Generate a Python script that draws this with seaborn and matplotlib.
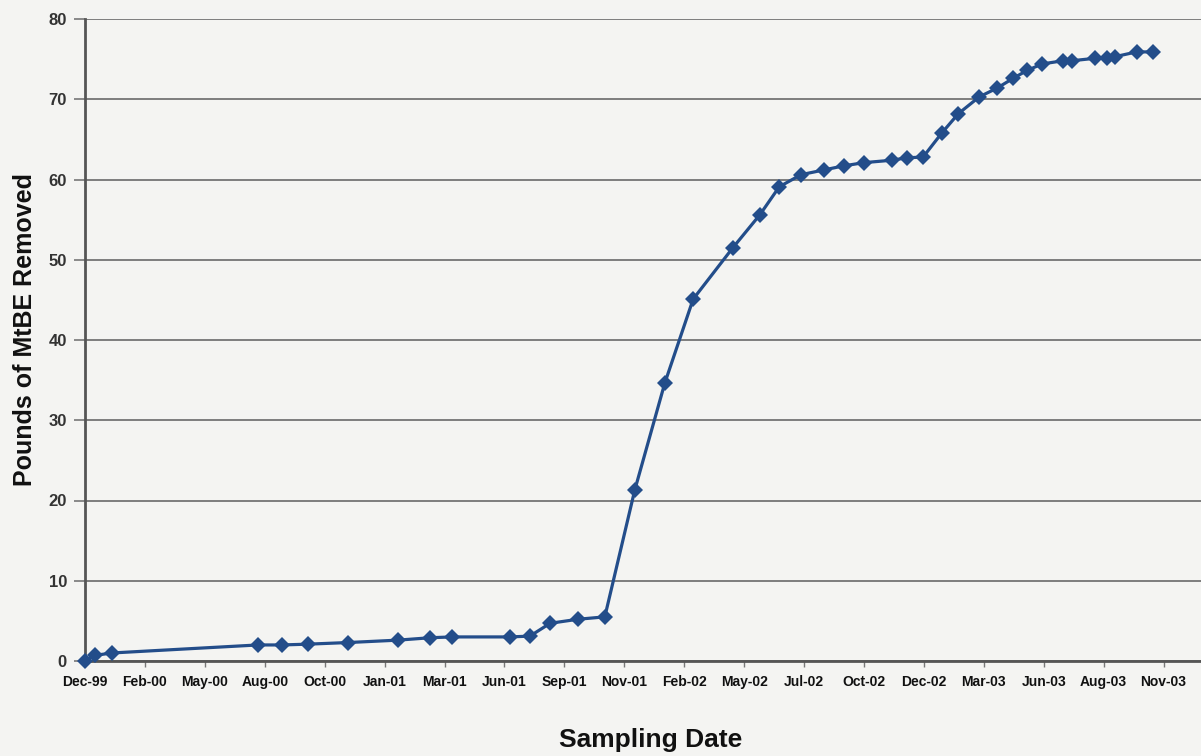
import matplotlib
matplotlib.use("Agg")
import matplotlib.pyplot as plt
import matplotlib.dates as mdates
import numpy as np
import pandas as pd
import seaborn as sns

# Cumulative MtBE mass removed at each sampling event
sampling_dates = [
    "1999-12-06", "1999-12-19", "2000-01-11", "2000-07-24", "2000-08-25",
    "2000-09-29", "2000-11-21", "2001-01-27", "2001-03-11", "2001-04-09",
    "2001-06-25", "2001-07-22", "2001-08-18", "2001-09-24", "2001-10-30",
    "2001-12-09", "2002-01-18", "2002-02-25", "2002-04-19", "2002-05-25",
    "2002-06-20", "2002-07-19", "2002-08-19", "2002-09-14", "2002-10-11",
    "2002-11-17", "2002-12-07", "2002-12-29", "2003-01-23", "2003-02-14",
    "2003-03-14", "2003-04-07", "2003-04-28", "2003-05-17", "2003-06-06",
    "2003-07-04", "2003-07-16", "2003-08-15", "2003-08-31", "2003-09-11",
    "2003-10-10", "2003-11-01",
]
pounds_removed = [
    0.0, 0.7, 1.0, 2.0, 2.0,
    2.1, 2.3, 2.6, 2.9, 3.0,
    3.0, 3.1, 4.7, 5.2, 5.5,
    21.3, 34.6, 45.1, 51.5, 55.6,
    59.1, 60.6, 61.2, 61.7, 62.1,
    62.4, 62.7, 62.8, 65.8, 68.2,
    70.3, 71.4, 72.6, 73.6, 74.4,
    74.8, 74.8, 75.1, 75.2, 75.3,
    75.9, 75.9,
]
y_ticks = [0, 10, 20, 30, 40, 50, 60, 70, 80]

df = pd.DataFrame({"date": pd.to_datetime(sampling_dates), "lbs": pounds_removed})

sns.set_theme(style="white")
plt.rcParams["font.family"] = ["Liberation Sans", "DejaVu Sans"]

bg = "#f4f4f2"
fig = plt.figure(figsize=(12.01, 7.56), dpi=100, facecolor=bg)
ax = fig.add_axes([85 / 1201, 95 / 756, (1201 - 85) / 1201, 642 / 756])
ax.set_facecolor(bg)

sns.lineplot(data=df, x="date", y="lbs", ax=ax, color="#234d8a", linewidth=2.3,
             marker="D", markersize=8.5, markeredgewidth=0, zorder=3, clip_on=False)

# Date axis: ticks every 80 days starting at the first sampling event
start = pd.Timestamp("1999-12-06")
tick_dates = [start + pd.Timedelta(days=80 * k) for k in range(19)]
ax.set_xticks(tick_dates)
ax.xaxis.set_major_formatter(mdates.DateFormatter("%b-%y"))
ax.set_xlim(start, start + pd.Timedelta(days=1490))
ax.set_ylim(0, 80)
ax.set_yticks(y_ticks)

ax.yaxis.grid(True, color="#7d7d7d", linewidth=1.4)
ax.xaxis.grid(False)
for side in ["top", "right"]:
    ax.spines[side].set_visible(False)
ax.spines["left"].set_color("#555555")
ax.spines["left"].set_linewidth(2)
ax.spines["bottom"].set_color("#555555")
ax.spines["bottom"].set_linewidth(2)

ax.tick_params(axis="y", which="major", direction="out", length=8, width=1.2,
               color="#777777", labelsize=12, labelcolor="#333333", pad=5, left=True)
ax.tick_params(axis="x", which="major", direction="out", length=4, width=1,
               color="#777777", labelsize=10, labelcolor="#111111", pad=6, bottom=True)
for lbl in ax.get_yticklabels():
    lbl.set_fontweight("bold")
for lbl in ax.get_xticklabels():
    lbl.set_fontweight("bold")

ax.set_xlabel("")
ax.set_ylabel("")
fig.text(25 / 1201, 1 - 330 / 756, "Pounds of MtBE Removed", rotation=90,
         ha="center", va="center", fontsize=18, fontweight="bold", color="#111111")
fig.text(651 / 1201, 1 - 740 / 756, "Sampling Date", ha="center", va="center",
         fontsize=19, fontweight="bold", color="#111111")

fig.savefig("out.png", dpi=100, facecolor=bg)
